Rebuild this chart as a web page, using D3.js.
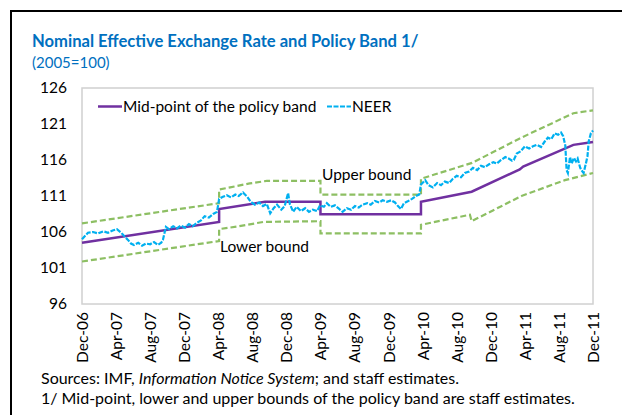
<!DOCTYPE html>
<html lang="en">
<head>
    <meta charset="UTF-8">
    <script src="https://d3js.org/d3.v7.min.js"></script>
    <title>NEER and Policy Band</title>
    <style>
        body {
            margin: 0;
            overflow: hidden;
            background: white;
        }
        text {
            font-family: "Lato", "Open Sans", sans-serif;
        }
    </style>
</head>
<body>
    <script>
        // months counted from Dec-06 (0) to Dec-11 (60)
        const tickMonths = [0, 4, 8, 12, 16, 20, 24, 28, 32, 36, 40, 44, 48, 52, 56, 60];
        const tickLabels = ["Dec-06", "Apr-07", "Aug-07", "Dec-07", "Apr-08", "Aug-08", "Dec-08", "Apr-09",
                            "Aug-09", "Dec-09", "Apr-10", "Aug-10", "Dec-10", "Apr-11", "Aug-11", "Dec-11"];
        const yTicks = [96, 101, 106, 111, 116, 121, 126];

        const midPoint = [[0, 104.5], [16.1, 107.4], [16.1, 109.2], [21.5, 110.2], [28, 110.2], [28, 108.45],
                          [39.8, 108.45], [39.8, 110.2], [45.75, 111.6], [51.4, 114.7], [51.8, 115.1],
                          [57.7, 118.1], [60, 118.5]];

        const upperBound = [[0, 107.2], [16.1, 110.0], [16.1, 111.9], [17.4, 112.2], [19.7, 112.75], [21.7, 113.1],
                            [28, 113.1], [28, 111.2], [39.8, 111.2], [39.8, 113.4], [45.8, 115.6],
                            [51.4, 119.0], [57.7, 122.5], [60, 122.9]];

        const lowerBound = [[0, 101.9], [16.1, 104.75], [16.1, 106.4], [18.2, 106.75], [21.3, 107.4], [28, 107.5],
                            [28, 105.8], [39.8, 105.8], [39.8, 107.0], [45.55, 108.4], [45.75, 107.5],
                            [51.6, 111.0], [56.7, 113.2], [60, 114.2]];

        const neer = [
            [0, 105.0], [0.7, 105.9], [1.3, 106.0], [1.9, 105.8], [2.5, 106.1], [3.05, 105.9], [3.6, 106.2],
            [4.1, 106.4], [4.6, 105.9], [4.9, 105.5], [5.4, 104.9], [5.75, 104.4], [6.1, 104.2], [6.6, 104.5],
            [7.05, 104.1], [7.5, 104.4], [8.0, 104.3], [8.45, 104.6], [8.9, 104.2], [9.3, 104.5], [9.5, 104.9],
            [9.85, 106.7], [10.2, 106.4], [10.7, 106.8], [11.15, 106.5], [11.6, 106.9], [12.1, 106.6],
            [12.55, 107.1], [13.0, 106.8], [13.5, 107.3], [13.97, 107.6], [14.4, 108.2], [14.9, 108.0],
            [15.4, 108.5], [15.85, 108.8], [16.1, 110.6], [16.55, 110.9], [17.0, 111.1], [17.5, 110.8],
            [18.0, 111.2], [18.4, 111.0], [18.9, 111.5], [19.4, 110.9], [19.8, 110.2], [20.3, 109.8],
            [20.8, 110.1], [21.25, 109.6], [21.7, 109.9], [22.1, 108.6], [22.5, 109.3], [22.9, 109.8],
            [23.4, 109.1], [23.8, 109.6], [24.2, 111.4], [24.4, 109.9], [24.8, 108.8], [25.2, 109.5],
            [25.7, 108.9], [26.2, 109.3], [26.65, 108.8], [27.1, 109.1], [27.6, 108.9], [27.95, 109.7],
            [28.4, 109.5], [28.75, 110.0], [29.2, 109.5], [29.7, 109.7], [30.2, 109.2], [30.6, 108.8],
            [31.1, 109.3], [31.6, 109.1], [32.05, 109.6], [32.5, 109.4], [32.95, 109.8], [33.5, 110.0],
            [33.9, 109.8], [34.4, 110.3], [34.9, 110.1], [35.3, 110.4], [35.8, 110.2], [36.3, 110.4],
            [36.75, 110.1], [37.1, 109.6], [37.45, 109.2], [37.8, 110.0], [38.3, 110.3], [38.75, 110.6],
            [39.2, 111.0], [39.6, 111.2], [39.8, 112.6], [40.3, 113.2], [40.7, 112.5], [41.2, 112.2],
            [41.7, 112.8], [42.15, 112.5], [42.6, 113.0], [43.1, 112.8], [43.55, 113.4], [44.0, 113.8],
            [44.5, 113.6], [44.95, 114.2], [45.45, 114.4], [45.9, 114.9], [46.4, 114.6], [46.85, 115.2],
            [47.3, 115.0], [47.8, 115.4], [48.3, 115.7], [48.7, 115.5], [49.2, 116.0], [49.7, 116.4],
            [50.1, 116.2], [50.5, 115.9], [50.7, 116.0], [51.05, 116.9], [51.5, 117.2], [52.0, 117.9],
            [52.5, 117.6], [52.95, 117.9], [53.4, 118.1], [53.9, 117.8], [54.35, 118.6], [54.7, 119.1],
            [55.1, 118.9], [55.5, 119.7], [55.9, 119.5], [56.25, 119.8], [56.5, 119.3], [56.75, 118.0],
            [56.9, 114.6], [57.05, 114.2], [57.3, 116.4], [57.5, 115.5], [57.75, 116.3], [58.0, 115.8],
            [58.2, 116.2], [58.5, 114.9], [58.7, 114.5], [58.9, 114.2], [59.2, 115.7], [59.35, 116.5],
            [59.5, 118.6], [59.75, 119.7], [60, 120.1]
        ];

        const width = 622, height = 415;

        const svg = d3.select('body')
            .append('svg')
            .attr('width', width)
            .attr('height', height);

        const margin = { top: 88, left: 82, right: 29, bottom: 111 };

        const x = d3.scaleLinear()
            .domain([0, 60])
            .range([margin.left, width - margin.right]);

        const y = d3.scaleLinear()
            .domain([96, 126])
            .range([height - margin.bottom, margin.top]);

        // outer black frame (left and top edges only show)
        svg.append('path')
            .attr('d', `M11,415 L11,11 L622,11`)
            .attr('fill', 'none')
            .attr('stroke', 'black')
            .attr('stroke-width', 2);

        svg.append('text')
            .attr('x', 32)
            .attr('y', 47)
            .attr('fill', '#0070C0')
            .attr('font-weight', 'bold')
            .style('font-size', '16.6px')
            .text('Nominal Effective Exchange Rate and Policy Band 1/');

        svg.append('text')
            .attr('x', 32)
            .attr('y', 68)
            .attr('fill', '#0070C0')
            .style('font-size', '15px')
            .text('(2005=100)');

        // plot area border
        svg.append('rect')
            .attr('x', x(0))
            .attr('y', y(126))
            .attr('width', x(60) - x(0))
            .attr('height', y(96) - y(126))
            .attr('fill', 'none')
            .attr('stroke', '#d0d0d0')
            .attr('stroke-width', 1.5);

        const yAxis = svg.append('g')
            .attr('transform', `translate(${margin.left}, 0)`)
            .call(d3.axisLeft(y).tickValues(yTicks).tickSize(0).tickPadding(15));
        yAxis.select('.domain').remove();
        yAxis.selectAll('text')
            .style('font-size', '15.5px')
            .attr('font-family', 'Lato')
            .attr('fill', 'black');

        const xAxis = svg.append('g')
            .attr('transform', `translate(0, ${y(96)})`)
            .call(d3.axisBottom(x).tickValues(tickMonths).tickSize(0)
                .tickFormat((d, i) => tickLabels[i]));
        xAxis.select('.domain').remove();
        xAxis.selectAll('text')
            .attr('transform', 'rotate(-90)')
            .attr('x', -8)
            .attr('y', 0)
            .attr('dy', '0.35em')
            .attr('text-anchor', 'end')
            .attr('font-family', 'Lato')
            .style('font-size', '15.5px')
            .attr('fill', 'black');

        const line = d3.line()
            .x(d => x(d[0]))
            .y(d => y(d[1]));

        svg.append('path')
            .datum(upperBound)
            .attr('d', line)
            .attr('fill', 'none')
            .attr('stroke', '#8DBF63')
            .attr('stroke-width', 2.2)
            .attr('stroke-dasharray', '6,3');

        svg.append('path')
            .datum(lowerBound)
            .attr('d', line)
            .attr('fill', 'none')
            .attr('stroke', '#8DBF63')
            .attr('stroke-width', 2.2)
            .attr('stroke-dasharray', '6,3');

        svg.append('path')
            .datum(midPoint)
            .attr('d', line)
            .attr('fill', 'none')
            .attr('stroke', '#7030A0')
            .attr('stroke-width', 2.5);

        svg.append('path')
            .datum(neer)
            .attr('d', line)
            .attr('fill', 'none')
            .attr('stroke', '#00B0F0')
            .attr('stroke-width', 2.2)
            .attr('stroke-dasharray', '5,1.5');

        svg.append('text')
            .attr('x', 322)
            .attr('y', 180)
            .style('font-size', '15.5px')
            .text('Upper bound');

        svg.append('text')
            .attr('x', 220)
            .attr('y', 252)
            .style('font-size', '15.5px')
            .text('Lower bound');

        // legend
        const legend = svg.append('g');
        legend.append('line')
            .attr('x1', 98).attr('x2', 122)
            .attr('y1', 106.5).attr('y2', 106.5)
            .attr('stroke', '#7030A0')
            .attr('stroke-width', 2.5);
        legend.append('text')
            .attr('x', 123)
            .attr('y', 111.5)
            .style('font-size', '15.5px')
            .text('Mid-point of the policy band');
        legend.append('line')
            .attr('x1', 327).attr('x2', 351)
            .attr('y1', 106.5).attr('y2', 106.5)
            .attr('stroke', '#00B0F0')
            .attr('stroke-width', 2)
            .attr('stroke-dasharray', '5,1.5');
        legend.append('text')
            .attr('x', 352)
            .attr('y', 111.5)
            .style('font-size', '15.5px')
            .text('NEER');

        const source = svg.append('text')
            .attr('x', 41)
            .attr('y', 384)
            .style('font-size', '16px');
        source.append('tspan').text('Sources: IMF, ');
        source.append('tspan').attr('font-style', 'italic').text('Information Notice System');
        source.append('tspan').text('; and staff estimates.');

        svg.append('text')
            .attr('x', 41)
            .attr('y', 404)
            .style('font-size', '16px')
            .text('1/ Mid-point, lower and upper bounds of the policy band are staff estimates.');
    </script>
</body>
</html>
